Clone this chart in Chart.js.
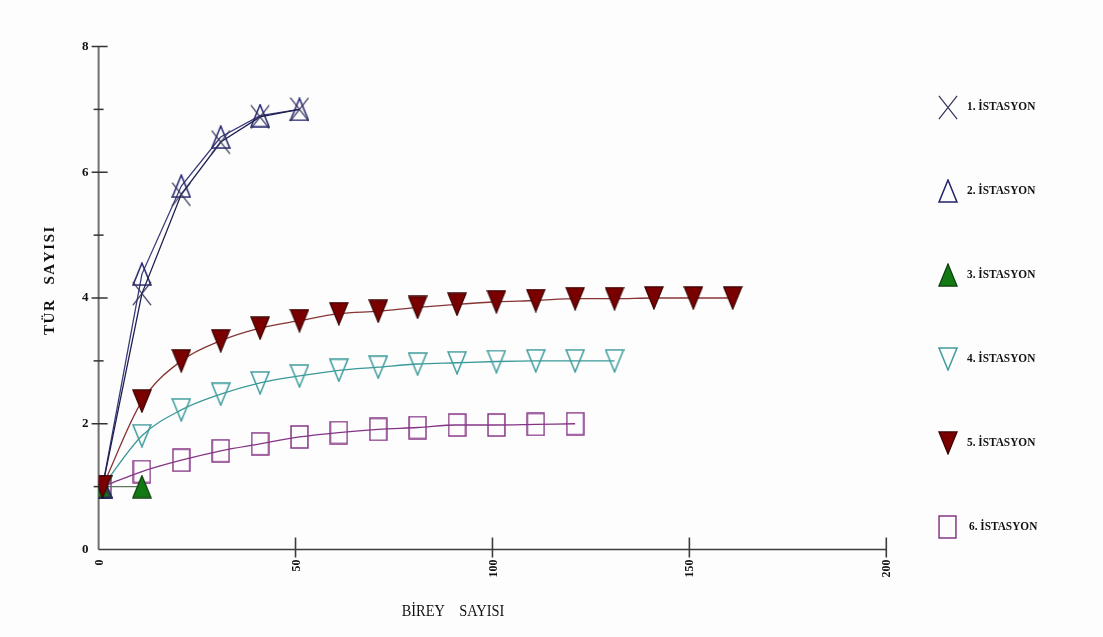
<!DOCTYPE html>
<html>
<head>
<meta charset="utf-8">
<script src="https://cdn.jsdelivr.net/npm/chart.js@4/dist/chart.umd.min.js"></script>
<style>
  html, body { margin: 0; padding: 0; background: #fdfdfd; }
  canvas { display: block; }
</style>
</head>
<body>
<canvas id="c" width="1103" height="637"></canvas>
<script>
// Tür birikim eğrileri: birey sayısına göre tür sayısı (6 istasyon)
const stationNames = ['1. İSTASYON', '2. İSTASYON', '3. İSTASYON', '4. İSTASYON', '5. İSTASYON', '6. İSTASYON'];

const birey1 = [1, 11, 21, 31, 41, 51];
const tur1   = [1, 4.07, 5.65, 6.48, 6.88, 7.0];

const birey2 = [1, 11, 21, 31, 41, 51];
const tur2   = [1, 4.38, 5.78, 6.56, 6.9, 7.0];

const birey3 = [1, 11];
const tur3   = [1, 1];

const birey4 = [1, 11, 21, 31, 41, 51, 61, 71, 81, 91, 101, 111, 121, 131];
const tur4   = [1, 1.81, 2.22, 2.47, 2.65, 2.76, 2.85, 2.9, 2.95, 2.97, 2.99, 3.0, 3.0, 3.0];

const birey5 = [1, 11, 21, 31, 41, 51, 61, 71, 81, 91, 101, 111, 121, 131, 141, 151, 161];
const tur5   = [1, 2.36, 3.0, 3.32, 3.52, 3.64, 3.75, 3.79, 3.85, 3.9, 3.94, 3.96, 3.99, 3.99, 4.0, 4.0, 4.0];

const birey6 = [1, 11, 21, 31, 41, 51, 61, 71, 81, 91, 101, 111, 121];
const tur6   = [1, 1.24, 1.42, 1.57, 1.68, 1.79, 1.86, 1.91, 1.94, 1.98, 1.98, 1.99, 2.0];

const xTickVals  = [0, 50, 100, 150, 200];
const yTickVals  = [0, 2, 4, 6, 8];
const yMinorVals = [1, 3, 5, 7];

const SERIF = '"Liberation Serif", "Times New Roman", serif';

// small canvases used as point markers
function makeMarker(kind, w, h, stroke, fill, lw) {
  const c = document.createElement('canvas');
  c.width = w; c.height = h;
  const g = c.getContext('2d');
  g.lineWidth = lw;
  g.strokeStyle = stroke;
  g.lineJoin = 'miter';
  const m = lw / 2 + 0.3;
  g.beginPath();
  if (kind === 'x') {
    g.moveTo(m, m); g.lineTo(w - m, h - m);
    g.moveTo(w - m, m); g.lineTo(m, h - m);
  } else if (kind === 'tri') {
    g.moveTo(w / 2, m); g.lineTo(w - m, h - m); g.lineTo(m, h - m); g.closePath();
  } else if (kind === 'tridown') {
    g.moveTo(m, m); g.lineTo(w - m, m); g.lineTo(w / 2, h - m); g.closePath();
  } else if (kind === 'square') {
    g.rect(m, m, w - 2 * m, h - 2 * m);
  }
  if (fill) { g.fillStyle = fill; g.fill(); }
  g.stroke();
  return c;
}

const markers = [
  makeMarker('x', 20, 25, '#34345a', null, 1.2),
  makeMarker('tri', 20, 24, '#22226c', null, 1.5),
  makeMarker('tri', 20, 24, '#0b3d0b', '#137a13', 1.2),
  makeMarker('tridown', 20, 24, '#3f9c9c', null, 1.5),
  makeMarker('tridown', 20, 24, '#3a0000', '#7a0000', 1.2),
  makeMarker('square', 19, 24, '#863686', null, 1.5)
];

function pts(xs, ys) { return xs.map((v, i) => ({ x: v, y: ys[i] })); }

const series = [
  { xs: birey1, ys: tur1, line: '#1e1e4e', smooth: false, order: 1 },
  { xs: birey2, ys: tur2, line: '#3a3a7a', smooth: false, order: 2 },
  { xs: birey3, ys: tur3, line: '#5a7a5a', smooth: false, order: 3 },
  { xs: birey4, ys: tur4, line: '#3a9898', smooth: true,  order: 5 },
  { xs: birey5, ys: tur5, line: '#863434', smooth: true,  order: 0 },
  { xs: birey6, ys: tur6, line: '#843484', smooth: true,  order: 6 }
];

const datasets = series.map((s, i) => ({
  label: stationNames[i],
  data: pts(s.xs, s.ys),
  borderColor: s.line,
  borderWidth: 1.3,
  backgroundColor: s.line,
  pointStyle: markers[i],
  pointRadius: 10,
  pointHoverRadius: 10,
  tension: s.smooth ? 0.4 : 0,
  cubicInterpolationMode: s.smooth ? 'monotone' : 'default',
  order: s.order,
  fill: false
}));

function line(ctx, x1, y1, x2, y2) {
  ctx.beginPath(); ctx.moveTo(x1, y1); ctx.lineTo(x2, y2); ctx.stroke();
}

// axes with crossing ticks, drawn beneath the data
const axesPlugin = {
  id: 'axesPlugin',
  beforeDatasetsDraw(chart) {
    const { ctx, scales: { x, y } } = chart;
    const x0 = x.getPixelForValue(0);
    const y0 = y.getPixelForValue(0);
    const yTop = y.getPixelForValue(8);
    const xEnd = x.getPixelForValue(200);
    ctx.save();
    ctx.strokeStyle = '#707070';
    ctx.lineWidth = 2;
    line(ctx, x0, yTop, x0, y0);
    ctx.strokeStyle = '#333';
    ctx.lineWidth = 1.5;
    yTickVals.forEach(v => {
      if (v === 0) return;
      const py = y.getPixelForValue(v);
      line(ctx, x0 - 7, py, x0 + 9, py);
    });
    yMinorVals.forEach(v => {
      const py = y.getPixelForValue(v);
      line(ctx, x0 - 5, py, x0 + 5, py);
    });
    ctx.strokeStyle = '#3c3c3c';
    ctx.lineWidth = 1.6;
    line(ctx, x0, y0, xEnd, y0);
    xTickVals.forEach(v => {
      if (v === 0) return;
      const px = x.getPixelForValue(v);
      line(ctx, px, y0 - 12, px, y0 + 8);
    });
    ctx.restore();
  },
  afterDraw(chart) {
    const { ctx, scales: { x, y } } = chart;
    const x0 = x.getPixelForValue(0);
    const y0 = y.getPixelForValue(0);
    ctx.save();
    ctx.fillStyle = '#111';

    // y tick labels
    ctx.font = 'bold 13px ' + SERIF;
    ctx.textAlign = 'right';
    ctx.textBaseline = 'middle';
    yTickVals.forEach(v => {
      ctx.fillText(String(v), x0 - 10, y.getPixelForValue(v));
    });

    // x tick labels, rotated
    ctx.font = 'bold 12px ' + SERIF;
    xTickVals.forEach(v => {
      ctx.save();
      ctx.translate(x.getPixelForValue(v) + 1, y0 + 10);
      ctx.rotate(-Math.PI / 2);
      ctx.textAlign = 'right';
      ctx.textBaseline = 'middle';
      ctx.fillText(String(v), 0, 0);
      ctx.restore();
    });

    // y axis title, letter-spaced
    ctx.save();
    ctx.translate(50, 280);
    ctx.rotate(-Math.PI / 2);
    ctx.font = 'bold 15px ' + SERIF;
    ctx.textAlign = 'left';
    ctx.textBaseline = 'middle';
    const yTitle = 'TÜR  SAYISI';
    const sp = 1.6;
    let total = 0;
    for (const ch of yTitle) total += (ch === ' ' ? 7 : ctx.measureText(ch).width + sp);
    let cx = -total / 2;
    for (const ch of yTitle) {
      if (ch === ' ') { cx += 7; continue; }
      ctx.fillText(ch, cx, 0);
      cx += ctx.measureText(ch).width + sp;
    }
    ctx.restore();

    // x axis title
    ctx.save();
    ctx.font = '16px ' + SERIF;
    ctx.textAlign = 'center';
    ctx.textBaseline = 'alphabetic';
    ctx.translate(453, 616);
    ctx.scale(0.9, 1);
    ctx.fillText('BİREY    SAYISI', 0, 0);
    ctx.restore();

    // legend
    const legX = 947.5;
    const legY0 = 107;
    const legStep = 84;
    chart.data.datasets.forEach((ds, i) => {
      const cy = legY0 + i * legStep;
      const img = markers[i];
      ctx.drawImage(img, Math.round(legX - img.width / 2), Math.round(cy - img.height / 2));
      ctx.save();
      ctx.font = 'bold 13px ' + SERIF;
      ctx.textAlign = 'left';
      ctx.textBaseline = 'middle';
      ctx.translate(i === 5 ? 969 : 967, cy);
      ctx.scale(0.87, 1);
      ctx.fillStyle = '#111';
      ctx.fillText(ds.label, 0, 0);
      ctx.restore();
    });

    ctx.restore();
  }
};

new Chart(document.getElementById('c'), {
  type: 'line',
  data: { datasets },
  options: {
    responsive: false,
    animation: false,
    layout: { padding: { left: 98.6, right: 216.7, top: 46.5, bottom: 87.5 } },
    plugins: { legend: { display: false }, tooltip: { enabled: false } },
    scales: {
      x: { type: 'linear', min: 0, max: 200, display: false },
      y: { type: 'linear', min: 0, max: 8, display: false }
    }
  },
  plugins: [axesPlugin]
});
</script>
</body>
</html>
